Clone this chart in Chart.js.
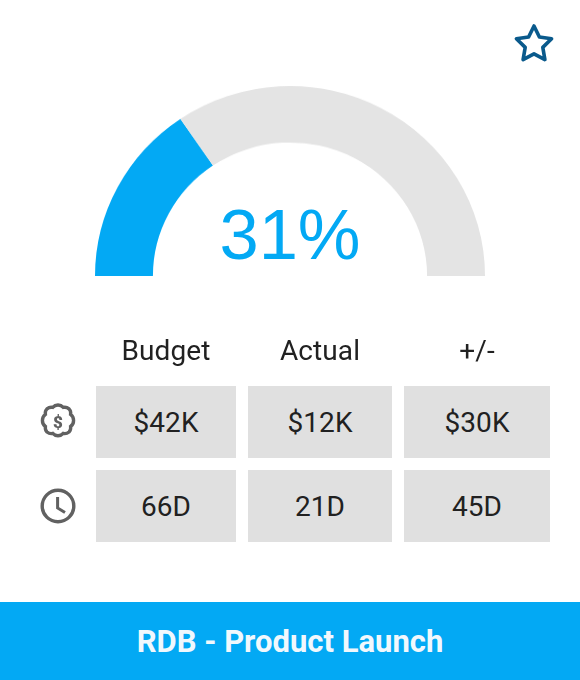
<!DOCTYPE html>
<html><head><meta charset="utf-8">
<script src="https://cdn.jsdelivr.net/npm/chart.js@4"></script>
<style>
html,body{margin:0;padding:0;background:#fff}
#page{position:relative;width:580px;height:680px;overflow:hidden;font-family:Roboto,sans-serif;color:#212121}
#wrap{position:absolute;left:95px;top:81px;width:390px;height:195px;transform:scaleY(0.974);transform-origin:50% 100%}
#pct{position:absolute;left:95px;width:390px;top:193px;text-align:center;font:70.5px/84px "Liberation Sans",Arial,sans-serif;color:#03A9F4}
.h,.c{position:absolute;display:flex;align-items:center;justify-content:center;font-size:28px;letter-spacing:.1px}
.c{background:#E0E0E0;padding-top:1px;box-sizing:border-box}
.h{top:330px;height:40px}
#footer{position:absolute;left:0;top:602px;width:580px;height:78px;background:#03A9F4;color:#F1F8FD;font-weight:700;font-size:31px;display:flex;align-items:center;justify-content:center}
svg{position:absolute;overflow:visible}
</style></head><body><div id="page">
<div id="wrap"><canvas id="gauge"></canvas></div>
<div id="pct"></div>
<svg style="left:0;top:0" width="580" height="680">
<path d="M534 26 L539.4 37 L551.6 38.8 L542.8 47.4 L544.9 59.6 L534 53.8 L523.1 59.600 L525.2 47.4 L516.4 38.8 L528.6 37 Z" fill="none" stroke="#0A5A8C" stroke-width="3.6" stroke-linejoin="round"/>
<path transform="translate(58 422) scale(1.06) translate(-58 -422)" d="M58 406 q3 0 5 2.2 q3-.6 5.400 1.400 q2 2 1.500 5.200 q2.800 2 2.800 5.700 q0 3.700-2.800 5.700 q.5 3.200-1.500 5.200 q-2.400 2-5.400 1.400 q-2 2.200-5 2.200 q-3 0-5-2.200 q-3 .6-5.400-1.400 q-2-2-1.500-5.200 q-2.800-2-2.800-5.700 q0-3.700 2.800-5.700 q-.5-3.200 1.500-5.200 q2.400-2 5.400-1.400 q2-2.200 5-2.200 Z" fill="none" stroke="#616161" stroke-width="3.2"/>
<text x="58" y="428" text-anchor="middle" font-family="Roboto" font-weight="900" font-size="17" fill="#616161">$</text>
<circle cx="58" cy="506" r="15.800" fill="none" stroke="#616161" stroke-width="3.4"/>
<path d="M57.600 497 V508 L65 512.500" fill="none" stroke="#616161" stroke-width="3"/>
</svg>
<div id="footer"></div>
</div>
<script>
const gaugeLabels = ["Complete", "Remaining"];
const gaugeValues = [31, 69];
const gaugeText = "31%";
const columnLabels = ["Budget", "Actual", "+/-"];
const costRow = ["$42K", "$12K", "$30K"];
const timeRow = ["66D", "21D", "45D"];
const title = "RDB - Product Launch";

const colX = [[96,140],[248,144],[404,146]];
const rowY = [386,470];
const page = document.getElementById('page');
function add(cls, txt, x, w, y){
  const d = document.createElement('div');
  d.className = cls; d.textContent = txt;
  d.style.left = x+'px'; d.style.width = w+'px';
  if (y !== undefined){ d.style.top = y+'px'; d.style.height = '72px'; }
  page.appendChild(d);
}
columnLabels.forEach((t,i)=>add('h',t,colX[i][0],colX[i][1]));
costRow.forEach((t,i)=>add('c',t,colX[i][0],colX[i][1],rowY[0]));
timeRow.forEach((t,i)=>add('c',t,colX[i][0],colX[i][1],rowY[1]));
document.getElementById('pct').textContent = gaugeText;
document.getElementById('footer').textContent = title;

new Chart(document.getElementById('gauge'), {
  type: 'doughnut',
  data: { labels: gaugeLabels, datasets: [{ data: gaugeValues, backgroundColor: ['#03A9F4','#E4E4E4'], borderWidth: 0, hoverOffset: 0 }] },
  options: {
    responsive: true, maintainAspectRatio: false, animation: { duration: 0 }, circumference: 180, rotation: -90, cutout: '70.3%',
    layout: { padding: 0 },
    plugins: { legend: { display: false }, tooltip: { enabled: false } }
  }
});
</script></body></html>
